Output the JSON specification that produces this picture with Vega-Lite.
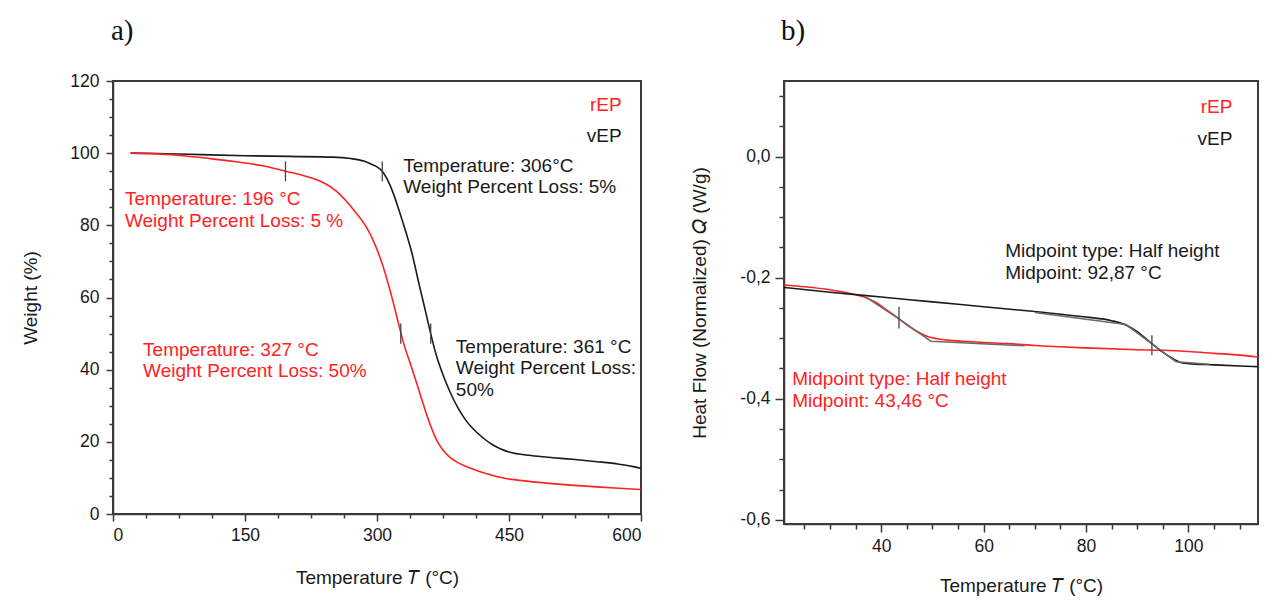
{
  "$schema": "https://vega.github.io/schema/vega-lite/v6.json",
  "background": "white",
  "padding": {"left": 20, "top": 15, "right": 4, "bottom": 4},
  "bounds": "flush",
  "spacing": 143,
  "config": {
    "view": {"stroke": "#3a3a3a", "strokeWidth": 2},
    "font": "Liberation Sans",
    "axis": {"grid": false, "domainColor": "#3a3a3a", "domainWidth": 1.5, "tickColor": "#3a3a3a", "tickWidth": 1.5, "labelFont": "Liberation Sans", "labelFontSize": 17.5, "labelColor": "#1a1a1a", "titleFont": "Liberation Sans", "titleFontSize": 19, "titleFontWeight": "normal", "titleColor": "#1a1a1a"},
    "text": {"font": "Liberation Sans", "fontSize": 19}
  },
  "hconcat": [
    {
      "width": 528,
      "height": 433,
      "title": {"text": "a)", "anchor": "start", "frame": "group", "offset": 3, "baseline": "alphabetic", "font": "Liberation Serif", "fontSize": 29, "fontWeight": "normal", "color": "#111111", "dx": -2},
      "resolve": {"axis": {"x": "independent", "y": "independent"}},
      "layer": [
        {
          "data": {"values": [
            {"T": 20, "W": 100, "s": "vEP"}, {"T": 50, "W": 99.9, "s": "vEP"}, {"T": 100, "W": 99.6, "s": "vEP"}, {"T": 150, "W": 99.3, "s": "vEP"}, {"T": 200, "W": 99.1, "s": "vEP"}, {"T": 250, "W": 98.9, "s": "vEP"}, {"T": 270, "W": 98.5, "s": "vEP"}, {"T": 285, "W": 97.8, "s": "vEP"}, {"T": 295, "W": 96.8, "s": "vEP"}, {"T": 300, "W": 96.2, "s": "vEP"}, {"T": 306, "W": 95.0, "s": "vEP"}, {"T": 312, "W": 92.6, "s": "vEP"}, {"T": 318, "W": 89.2, "s": "vEP"}, {"T": 325, "W": 84.2, "s": "vEP"}, {"T": 332, "W": 78.8, "s": "vEP"}, {"T": 340, "W": 72.0, "s": "vEP"}, {"T": 348, "W": 63.5, "s": "vEP"}, {"T": 355, "W": 56.3, "s": "vEP"}, {"T": 361, "W": 50.0, "s": "vEP"}, {"T": 368, "W": 43.5, "s": "vEP"}, {"T": 375, "W": 38.6, "s": "vEP"}, {"T": 383, "W": 33.8, "s": "vEP"}, {"T": 392, "W": 29.4, "s": "vEP"}, {"T": 400, "W": 26.3, "s": "vEP"}, {"T": 410, "W": 23.4, "s": "vEP"}, {"T": 420, "W": 21.2, "s": "vEP"}, {"T": 430, "W": 19.4, "s": "vEP"}, {"T": 440, "W": 18.1, "s": "vEP"}, {"T": 450, "W": 17.2, "s": "vEP"}, {"T": 475, "W": 16.2, "s": "vEP"}, {"T": 500, "W": 15.6, "s": "vEP"}, {"T": 525, "W": 15.1, "s": "vEP"}, {"T": 550, "W": 14.5, "s": "vEP"}, {"T": 575, "W": 13.8, "s": "vEP"}, {"T": 590, "W": 13.2, "s": "vEP"}, {"T": 600, "W": 12.6, "s": "vEP"},
            {"T": 20, "W": 100, "s": "rEP"}, {"T": 50, "W": 99.8, "s": "rEP"}, {"T": 80, "W": 99.3, "s": "rEP"}, {"T": 110, "W": 98.5, "s": "rEP"}, {"T": 140, "W": 97.6, "s": "rEP"}, {"T": 170, "W": 96.5, "s": "rEP"}, {"T": 196, "W": 95.0, "s": "rEP"}, {"T": 205, "W": 94.5, "s": "rEP"}, {"T": 215, "W": 93.9, "s": "rEP"}, {"T": 225, "W": 93.2, "s": "rEP"}, {"T": 235, "W": 92.3, "s": "rEP"}, {"T": 243, "W": 91.3, "s": "rEP"}, {"T": 250, "W": 90.2, "s": "rEP"}, {"T": 257, "W": 88.8, "s": "rEP"}, {"T": 264, "W": 87.0, "s": "rEP"}, {"T": 276, "W": 83.5, "s": "rEP"}, {"T": 288, "W": 79.5, "s": "rEP"}, {"T": 298, "W": 74.5, "s": "rEP"}, {"T": 307, "W": 68.5, "s": "rEP"}, {"T": 313, "W": 63.6, "s": "rEP"}, {"T": 319, "W": 58.1, "s": "rEP"}, {"T": 325, "W": 52.2, "s": "rEP"}, {"T": 331, "W": 46.7, "s": "rEP"}, {"T": 337, "W": 42.3, "s": "rEP"}, {"T": 343, "W": 37.8, "s": "rEP"}, {"T": 349, "W": 33.2, "s": "rEP"}, {"T": 355, "W": 28.6, "s": "rEP"}, {"T": 361, "W": 24.4, "s": "rEP"}, {"T": 367, "W": 20.9, "s": "rEP"}, {"T": 374, "W": 18.0, "s": "rEP"}, {"T": 382, "W": 15.9, "s": "rEP"}, {"T": 390, "W": 14.5, "s": "rEP"}, {"T": 400, "W": 13.3, "s": "rEP"}, {"T": 420, "W": 11.5, "s": "rEP"}, {"T": 445, "W": 9.9, "s": "rEP"}, {"T": 470, "W": 9.1, "s": "rEP"}, {"T": 495, "W": 8.5, "s": "rEP"}, {"T": 520, "W": 8.0, "s": "rEP"}, {"T": 545, "W": 7.6, "s": "rEP"}, {"T": 570, "W": 7.2, "s": "rEP"}, {"T": 600, "W": 6.8, "s": "rEP"}
          ]},
          "mark": {"type": "line", "strokeWidth": 1.6, "interpolate": "monotone"},
          "encoding": {
            "x": {"field": "T", "type": "quantitative", "scale": {"domain": [0, 600], "nice": false, "zero": false}, "axis": {"orient": "bottom", "values": [0, 150, 300, 450, 600], "tickSize": 7, "labelPadding": 5, "title": "Temperature  𝑇  (°C)", "titleY": 63, "titleBaseline": "middle"}},
            "y": {"field": "W", "type": "quantitative", "scale": {"domain": [0, 120], "nice": false, "zero": false}, "axis": {"orient": "left", "values": [0, 20, 40, 60, 80, 100, 120], "tickSize": 7, "labelPadding": 7, "title": "Weight  (%)", "titleX": -83, "titleY": 216.5, "titleBaseline": "middle"}},
            "color": {"field": "s", "type": "nominal", "scale": {"domain": ["rEP", "vEP", "tan"], "range": ["#ff2222", "#1a1a1a", "#6a6a6a"]}, "legend": null}
          }
        },
        {
          "data": {"values": [
            {"T": 196, "lo": 92.2, "hi": 97.7}, {"T": 306, "lo": 92.2, "hi": 97.7}, {"T": 327, "lo": 47.2, "hi": 52.8}, {"T": 361, "lo": 47.2, "hi": 52.8}
          ]},
          "mark": {"type": "rule", "color": "#444444", "strokeWidth": 1.3},
          "encoding": {
            "x": {"field": "T", "type": "quantitative", "axis": {"orient": "bottom", "values": [37.5, 75, 112.5, 187.5, 225, 262.5, 337.5, 375, 412.5, 487.5, 525, 562.5], "tickSize": 4, "labels": false, "domain": false, "title": null}},
            "y": {"field": "lo", "type": "quantitative", "axis": {"orient": "left", "values": [5, 10, 15, 25, 30, 35, 45, 50, 55, 65, 70, 75, 85, 90, 95, 105, 110, 115], "tickSize": 4, "labels": false, "domain": false, "title": null}},
            "y2": {"field": "hi"}
          }
        },
        {
          "data": {"values": [
            {"T": 13.6, "W": 85.6, "s": "rEP", "label": ["Temperature: 196 °C", "Weight Percent Loss: 5 %"]},
            {"T": 329.8, "W": 94.8, "s": "vEP", "label": ["Temperature: 306°C", "Weight Percent Loss: 5%"]},
            {"T": 34.2, "W": 43.8, "s": "rEP", "label": ["Temperature: 327 °C", "Weight Percent Loss: 50%"]},
            {"T": 389.6, "W": 44.7, "s": "vEP", "label": ["Temperature: 361 °C", "Weight Percent Loss:", "50%"]}
          ]},
          "mark": {"type": "text", "align": "left", "baseline": "alphabetic", "lineHeight": 21.5},
          "encoding": {
            "x": {"field": "T", "type": "quantitative", "axis": null},
            "y": {"field": "W", "type": "quantitative", "axis": null},
            "text": {"field": "label"},
            "color": {"field": "s", "type": "nominal", "legend": null}
          }
        },
        {
          "data": {"values": [
            {"T": 578, "W": 111.6, "s": "rEP", "label": "rEP"},
            {"T": 578, "W": 103.1, "s": "vEP", "label": "vEP"}
          ]},
          "mark": {"type": "text", "align": "right", "baseline": "alphabetic"},
          "encoding": {
            "x": {"field": "T", "type": "quantitative", "axis": null},
            "y": {"field": "W", "type": "quantitative", "axis": null},
            "text": {"field": "label"},
            "color": {"field": "s", "type": "nominal", "legend": null}
          }
        }
      ]
    },
    {
      "width": 474,
      "height": 443,
      "title": {"text": "b)", "anchor": "start", "frame": "group", "offset": 12.5, "baseline": "alphabetic", "font": "Liberation Serif", "fontSize": 29, "fontWeight": "normal", "color": "#111111", "dx": -3},
      "resolve": {"axis": {"x": "independent", "y": "independent"}},
      "layer": [
        {
          "data": {"values": [
            {"T": 21, "Q": -0.212, "s": "rEP"}, {"T": 25, "Q": -0.215, "s": "rEP"}, {"T": 30, "Q": -0.220, "s": "rEP"}, {"T": 34, "Q": -0.226, "s": "rEP"}, {"T": 37, "Q": -0.233, "s": "rEP"}, {"T": 39, "Q": -0.241, "s": "rEP"}, {"T": 41, "Q": -0.253, "s": "rEP"}, {"T": 43.46, "Q": -0.268, "s": "rEP"}, {"T": 45, "Q": -0.278, "s": "rEP"}, {"T": 47, "Q": -0.289, "s": "rEP"}, {"T": 49, "Q": -0.297, "s": "rEP"}, {"T": 51, "Q": -0.301, "s": "rEP"}, {"T": 54, "Q": -0.304, "s": "rEP"}, {"T": 60, "Q": -0.307, "s": "rEP"}, {"T": 65, "Q": -0.309, "s": "rEP"}, {"T": 70, "Q": -0.312, "s": "rEP"}, {"T": 80, "Q": -0.316, "s": "rEP"}, {"T": 90, "Q": -0.319, "s": "rEP"}, {"T": 95, "Q": -0.320, "s": "rEP"}, {"T": 100, "Q": -0.322, "s": "rEP"}, {"T": 105, "Q": -0.325, "s": "rEP"}, {"T": 110, "Q": -0.328, "s": "rEP"}, {"T": 113.6, "Q": -0.331, "s": "rEP"},
            {"T": 21, "Q": -0.216, "s": "vEP"}, {"T": 30, "Q": -0.224, "s": "vEP"}, {"T": 40, "Q": -0.232, "s": "vEP"}, {"T": 50, "Q": -0.240, "s": "vEP"}, {"T": 60, "Q": -0.248, "s": "vEP"}, {"T": 70, "Q": -0.256, "s": "vEP"}, {"T": 80, "Q": -0.265, "s": "vEP"}, {"T": 85, "Q": -0.271, "s": "vEP"}, {"T": 88, "Q": -0.279, "s": "vEP"}, {"T": 90, "Q": -0.289, "s": "vEP"}, {"T": 92.87, "Q": -0.309, "s": "vEP"}, {"T": 95, "Q": -0.323, "s": "vEP"}, {"T": 97, "Q": -0.334, "s": "vEP"}, {"T": 98.5, "Q": -0.340, "s": "vEP"}, {"T": 100, "Q": -0.342, "s": "vEP"}, {"T": 105, "Q": -0.344, "s": "vEP"}, {"T": 110, "Q": -0.346, "s": "vEP"}, {"T": 113.6, "Q": -0.347, "s": "vEP"}
          ]},
          "mark": {"type": "line", "strokeWidth": 1.6, "interpolate": "monotone"},
          "encoding": {
            "x": {"field": "T", "type": "quantitative", "scale": {"domain": [21, 113.6], "nice": false, "zero": false}, "axis": {"orient": "bottom", "values": [40, 60, 80, 100], "tickSize": 8, "labelPadding": 5, "title": "Temperature  𝑇  (°C)", "titleY": 61, "titleBaseline": "middle"}},
            "y": {"field": "Q", "type": "quantitative", "scale": {"domain": [-0.607, 0.125], "nice": false, "zero": false}, "axis": {"orient": "left", "values": [-0.6, -0.4, -0.2, 0], "tickSize": 9, "labelPadding": 5, "labelExpr": "(datum.value < -0.0001 ? '-' : '') + replace(format(abs(datum.value), '.1f'), '.', ',')", "title": "Heat Flow (Normalized)  𝑄  (W/g)", "titleX": -85, "titleY": 221.5, "titleBaseline": "middle"}},
            "color": {"field": "s", "type": "nominal", "scale": {"domain": ["rEP", "vEP", "tan"], "range": ["#ff2222", "#1a1a1a", "#6a6a6a"]}, "legend": null}
          }
        },
        {
          "data": {"values": [
            {"T": 37, "Q": -0.232, "s": "tan", "g": "r"}, {"T": 43.46, "Q": -0.268, "s": "tan", "g": "r"}, {"T": 49.7, "Q": -0.305, "s": "tan", "g": "r"}, {"T": 68, "Q": -0.3125, "s": "tan", "g": "r"},
            {"T": 70, "Q": -0.2575, "s": "tan", "g": "v"}, {"T": 87.8, "Q": -0.2775, "s": "tan", "g": "v"}, {"T": 97.6, "Q": -0.339, "s": "tan", "g": "v"}, {"T": 104, "Q": -0.343, "s": "tan", "g": "v"}
          ]},
          "mark": {"type": "line", "strokeWidth": 1.5},
          "encoding": {
            "x": {"field": "T", "type": "quantitative", "axis": null},
            "y": {"field": "Q", "type": "quantitative", "axis": null},
            "color": {"field": "s", "type": "nominal", "legend": null},
            "detail": {"field": "g"}
          }
        },
        {
          "data": {"values": [
            {"T": 43.46, "lo": -0.284, "hi": -0.248}, {"T": 92.87, "lo": -0.328, "hi": -0.295}
          ]},
          "mark": {"type": "rule", "color": "#444444", "strokeWidth": 1.3},
          "encoding": {
            "x": {"field": "T", "type": "quantitative", "axis": {"orient": "bottom", "values": [25, 30, 35, 45, 50, 55, 65, 70, 75, 85, 90, 95, 105, 110], "tickSize": 5, "labels": false, "domain": false, "title": null}},
            "y": {"field": "lo", "type": "quantitative", "axis": {"orient": "left", "values": [-0.55, -0.5, -0.45, -0.35, -0.3, -0.25, -0.15, -0.1, -0.05, 0.05, 0.1], "tickSize": 5, "labels": false, "domain": false, "title": null}},
            "y2": {"field": "hi"}
          }
        },
        {
          "data": {"values": [
            {"T": 64.2, "Q": -0.1654, "s": "vEP", "label": ["Midpoint type: Half height", "Midpoint: 92,87 °C"]},
            {"T": 22.6, "Q": -0.3775, "s": "rEP", "label": ["Midpoint type: Half height", "Midpoint: 43,46 °C"]}
          ]},
          "mark": {"type": "text", "align": "left", "baseline": "alphabetic", "lineHeight": 22},
          "encoding": {
            "x": {"field": "T", "type": "quantitative", "axis": null},
            "y": {"field": "Q", "type": "quantitative", "axis": null},
            "text": {"field": "label"},
            "color": {"field": "s", "type": "nominal", "legend": null}
          }
        },
        {
          "data": {"values": [
            {"T": 108.6, "Q": 0.0716, "s": "rEP", "label": "rEP"},
            {"T": 108.6, "Q": 0.0192, "s": "vEP", "label": "vEP"}
          ]},
          "mark": {"type": "text", "align": "right", "baseline": "alphabetic"},
          "encoding": {
            "x": {"field": "T", "type": "quantitative", "axis": null},
            "y": {"field": "Q", "type": "quantitative", "axis": null},
            "text": {"field": "label"},
            "color": {"field": "s", "type": "nominal", "legend": null}
          }
        }
      ]
    }
  ]
}
